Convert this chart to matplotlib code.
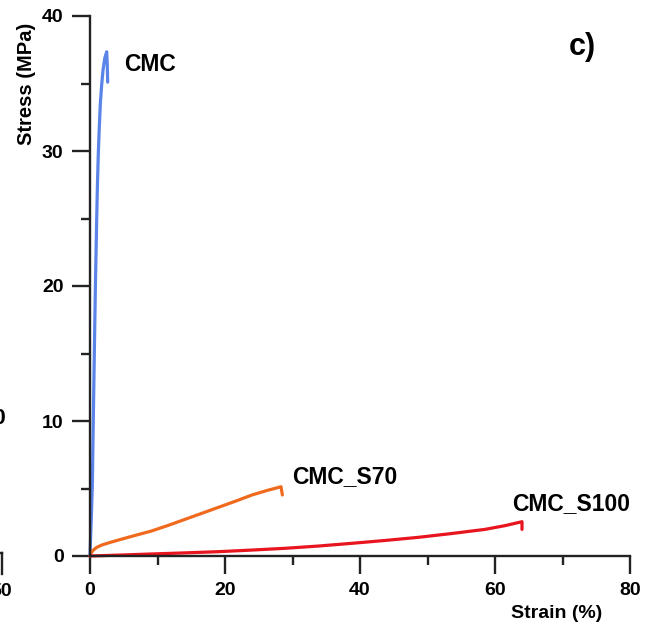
import matplotlib
matplotlib.use("Agg")
import matplotlib.pyplot as plt
from matplotlib.lines import Line2D
from matplotlib.ticker import MultipleLocator

plt.rcParams['font.family'] = ['Liberation Sans', 'DejaVu Sans']

# Data
cmc_strain = [0.0, 0.17, 0.34, 0.49, 0.64, 0.80, 0.99, 1.10, 1.23, 1.38, 1.53, 1.73, 1.93,
              2.20, 2.47, 2.55, 2.62]
cmc_stress = [0.0, 2.5, 5.1, 10.1, 15.0, 20.0, 24.9, 27.5, 29.8, 31.8, 33.5, 34.9, 36.0,
              36.9, 37.35, 36.5, 35.1]

s70_strain = [0.0, 0.2, 0.5, 1.0, 1.73, 2.8, 4.2, 6.5, 9.1, 11.6, 14.1, 16.5, 19.0, 21.5,
              24.0, 26.2, 28.3, 28.5]
s70_stress = [0.0, 0.25, 0.44, 0.64, 0.81, 0.98, 1.18, 1.5, 1.85, 2.27, 2.72, 3.15, 3.6,
              4.05, 4.52, 4.85, 5.13, 4.52]

s100_strain = [0.0, 4.5, 9.1, 14.0, 19.0, 24.0, 28.9, 33.9, 38.8, 43.7, 48.6, 53.5, 58.5,
               61.5, 64.0, 64.0]
s100_stress = [0.0, 0.07, 0.15, 0.23, 0.32, 0.44, 0.57, 0.74, 0.94, 1.15, 1.38, 1.66, 1.97,
               2.25, 2.54, 1.97]

series_names = ["CMC", "CMC_S70", "CMC_S100"]
series_colors = ["#5b84e8", "#f06a1e", "#e8141e"]
label_pos = [(5.0, 36.4), (29.9, 5.9), (62.5, 3.9)]

x_ticks = [0, 20, 40, 60, 80]
y_ticks = [0, 10, 20, 30, 40]

fig = plt.figure(figsize=(6.62, 6.29), dpi=100)
ax = fig.add_axes([90/662, 73/629, 540/662, 540/629])

data = [(cmc_strain, cmc_stress), (s70_strain, s70_stress), (s100_strain, s100_stress)]
for (xs, ys), c in zip(data, series_colors):
    ax.plot(xs, ys, color=c, lw=2.3, solid_capstyle='round', solid_joinstyle='round', clip_on=False)

for name, (lx, ly) in zip(series_names, label_pos):
    ax.text(lx, ly, name, fontsize=16.5, fontweight='bold', ha='left', va='center')

ax.set_xlim(0, 80)
ax.set_ylim(0, 40)
ax.set_xticks(x_ticks)
ax.set_yticks(y_ticks)
ax.xaxis.set_minor_locator(MultipleLocator(10))
ax.yaxis.set_minor_locator(MultipleLocator(5))
for s in ['top', 'right']:
    ax.spines[s].set_visible(False)
for s in ['left', 'bottom']:
    ax.spines[s].set_linewidth(1.7)
    ax.spines[s].set_color('#222222')
ax.tick_params(which='major', direction='out', length=13, width=1.7, colors='#222222',
               labelsize=14, pad=6)
ax.tick_params(which='minor', direction='out', length=6.5, width=1.7, colors='#222222')
for lab in ax.get_xticklabels() + ax.get_yticklabels():
    lab.set_fontweight('bold')
    lab.set_color('black')

fig.text(26/662, 1 - 84/629, "Stress (MPa)", rotation=90, fontsize=14.5, fontweight='bold',
         ha='center', va='center')
fig.text(557/662, 1 - 613/629, "Strain (%)", fontsize=14, fontweight='bold',
         ha='center', va='center')
fig.text(569/662, 1 - 47/629, "c)", fontsize=22, fontweight='bold', ha='left', va='center')

# Fragments of the neighbouring panel
fig.text(6/662, 1 - 418/629, "10", fontsize=16, fontweight='bold', ha='right', va='center')
fig.text(12/662, 1 - 591/629, "50", fontsize=14, fontweight='bold', ha='right', va='center')
fig.add_artist(Line2D([2/662, 2/662], [1 - 553/629, 1 - 574/629], transform=fig.transFigure,
                      color='#222222', lw=1.7))
fig.add_artist(Line2D([0, 2/662], [1 - 553/629, 1 - 553/629], transform=fig.transFigure,
                      color='#222222', lw=1.7))

fig.savefig("out.png", dpi=100)
